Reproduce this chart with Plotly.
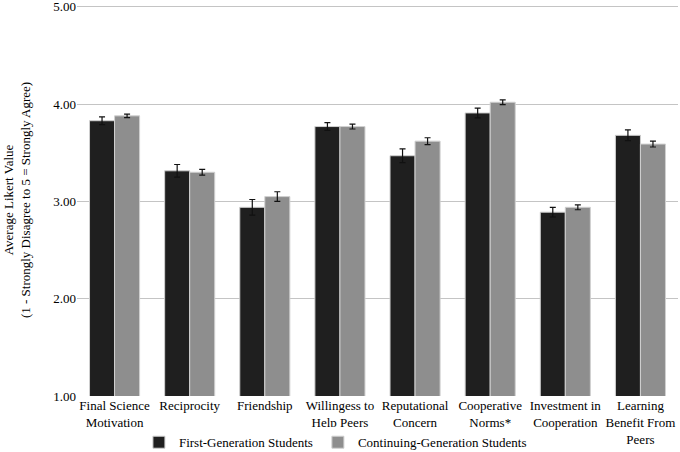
import plotly.graph_objects as go

categories = ["Final Science<br>Motivation", "Reciprocity", "Friendship", "Willingess to<br>Help Peers",
              "Reputational<br>Concern", "Cooperative<br>Norms*", "Investment in<br>Cooperation",
              "Learning<br>Benefit From<br>Peers"]
first_gen = [3.83, 3.315, 2.94, 3.77, 3.47, 3.91, 2.89, 3.68]
first_gen_err = [0.04, 0.065, 0.08, 0.04, 0.07, 0.05, 0.05, 0.055]
cont_gen = [3.88, 3.30, 3.05, 3.77, 3.62, 4.02, 2.94, 3.59]
cont_gen_err = [0.018, 0.03, 0.05, 0.025, 0.035, 0.025, 0.025, 0.03]
y_ticks = [1, 2, 3, 4, 5]

font = "Liberation Serif"

fig = go.Figure()
fig.add_trace(go.Bar(
    x=categories, y=first_gen, name="First-Generation Students",
    marker=dict(color="#1f1f1f", line=dict(color="#d0d0d0", width=1)),
    error_y=dict(type="data", array=first_gen_err, color="#111111", thickness=1.2, width=3),
))
fig.add_trace(go.Bar(
    x=categories, y=cont_gen, name="Continuing-Generation Students",
    marker=dict(color="#8e8e8e", line=dict(color="#d0d0d0", width=1)),
    error_y=dict(type="data", array=cont_gen_err, color="#111111", thickness=1.2, width=3),
))

fig.update_layout(
    width=680, height=452,
    margin=dict(l=77, r=2, t=4, b=56, autoexpand=False),
    paper_bgcolor="white", plot_bgcolor="white",
    font=dict(family=font, size=13, color="#000000"),
    barmode="group", bargap=1/3, bargroupgap=0,
    showlegend=True,
    legend=dict(orientation="h", x=0.43, xanchor="center", y=-0.118, yanchor="middle",
                font=dict(family=font, size=13), itemwidth=30, traceorder="normal"),
    xaxis=dict(showgrid=False, tickfont=dict(family=font, size=13), ticks="", showline=False,
               tickangle=0, automargin=False),
    yaxis=dict(range=[1, 5.03], tickvals=y_ticks, tickformat=".2f", showgrid=True,
               gridcolor="#c4c4c4", gridwidth=1, zeroline=False, showline=False,
               ticks="", tickfont=dict(family=font, size=13), automargin=False,
               ticklabeloverflow="allow",
               title=dict(text="Average Likert Value<br>(1 - Strongly Disagree to 5 = Strongly Agree)",
                          font=dict(family=font, size=13), standoff=19)),
)
fig.write_html("out.html", config={"displayModeBar": False},
               post_script="document.body.style.margin='0';")
